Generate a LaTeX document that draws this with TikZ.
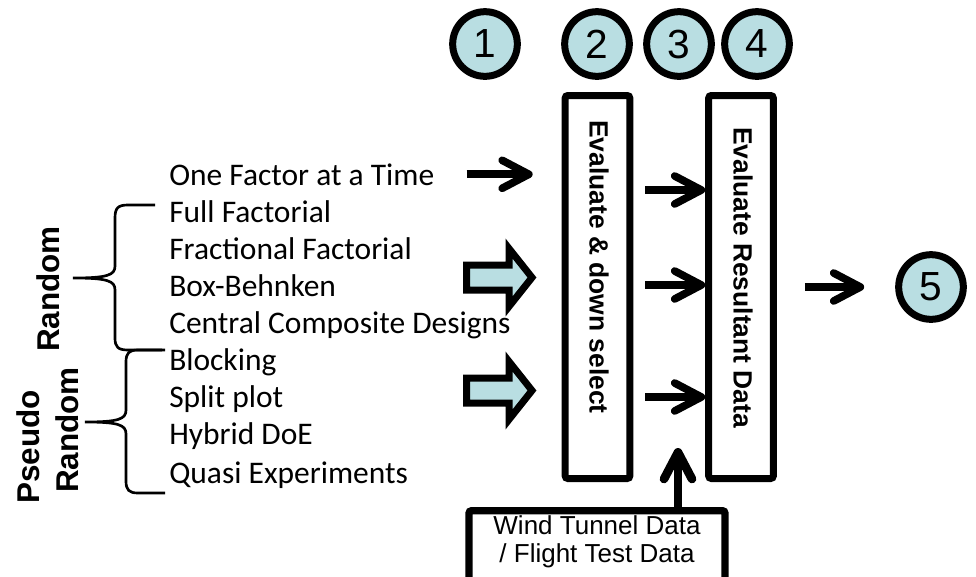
\documentclass[tikz,border=0pt]{standalone}
\usepackage{fontspec}
\setmainfont{Carlito}
\newfontfamily\arialfont{Liberation Sans}
\usetikzlibrary{arrows.meta,positioning}

\definecolor{stepblue}{RGB}{185,222,226}

\begin{document}
\begin{tikzpicture}[x=0.75pt, y=-0.75pt,
      every node/.append style={inner sep=0pt},
      stepnum/.style={circle, draw, line width=5.25pt, fill=stepblue,
        minimum size=48.5pt, font=\arialfont\fontsize{30.5}{32}\selectfont},
      stagebox/.style={draw, line width=5.25pt, rounded corners=2pt,
        minimum width=48.5pt, minimum height=287.25pt},
      stagetext/.style={rotate=-90, anchor=west,
        font=\arialfont\bfseries\fontsize{19.8}{22}\selectfont},
      design/.style={anchor=base west, font=\fontsize{23.6}{26}\selectfont},
      grouplabel/.style={rotate=90, font=\arialfont\bfseries\fontsize{23.6}{26}\selectfont},
      flowarrow/.style={line width=5.75pt, -{Straight Barb[length=20pt,width=21pt,round]}},
      fatarrow/.style={draw, line width=5.25pt, fill=stepblue, miter limit=4},
      grpbrace/.style={line width=2pt}]
    \clip (0,0) rectangle (976,576);

    % step numbers
    \node[stepnum] (s1) at (485,44) {1};
    \node[stepnum] (s2) at (597,44) {2};
    \node[stepnum] (s3) at (679,44) {3};
    \node[stepnum] (s4) at (757,44) {4};
    \node[stepnum] (s5) at (931,287) {5};

    % the two evaluation stages
    \node[stagebox] (eval) at (597.5,287) {};
    \node[stagebox] (result) at (741,287) {};
    \node[stagetext] at (599,120) {Evaluate \& down select};
    \node[stagetext] at (743,127) {Evaluate Resultant Data};

    % list of designs
    \foreach \name/\base/\txt in {one/185/One Factor at a Time,
        full/222/Full Factorial, frac/259/Fractional Factorial,
        box/296/Box-Behnken, ccd/333/Central Composite Designs,
        block/370/Blocking, split/407/Split plot, hybrid/444/Hybrid DoE,
        quasi/483/Quasi Experiments}
      \node[design] (\name) at (169,\base) {\txt};

    % group labels and braces
    \node[grouplabel] (random) at (48,289) {Random};
    \node[grouplabel] (pseudo) at (28,447) {Pseudo};
    \node[grouplabel] (pseudorandom) at (67,430) {Random};
    \draw[grpbrace] (155,205) -- (128,205) .. controls (118,205) and (115,208) .. (115,218)
      -- (115,266) .. controls (115,275) and (108,278) .. (73,278)
      .. controls (108,278) and (115,281) .. (115,290)
      -- (115,338) .. controls (115,347) and (118,350) .. (128,350) -- (162,350);
    \draw[grpbrace] (165,350) -- (138,350) .. controls (129,350) and (126,353) .. (126,362)
      -- (126,410) .. controls (126,419) and (119,422) .. (85,422)
      .. controls (119,422) and (126,425) .. (126,434)
      -- (126,481) .. controls (126,490) and (129,493) .. (138,493) -- (165,493);

    % inputs to the first stage
    \draw[flowarrow, shorten <=24pt, shorten >=21.75pt] (one.east) -- (eval.west |- one.east);
    \foreach \y in {277.5,390.5}
      \draw[fatarrow] (466.5,\y-12.5) -- (509,\y-12.5) -- (509,\y-29) -- (532,\y)
        -- (509,\y+29) -- (509,\y+12.5) -- (466.5,\y+12.5) -- cycle;

    % stage to stage
    \foreach \dy in {-97,-2,110}
      \draw[flowarrow] ([shift={(12,\dy)}]eval.east) -- ([shift={(0,\dy)}]result.west);
    \draw[flowarrow] ([shift={(28,0)}]result.east) -- ([shift={(-31,0)}]s5.west);

    % measured data feeding in from below
    \node[draw, line width=5.5pt, rounded corners=2pt, minimum width=192pt,
      minimum height=75pt, anchor=north] (wind) at (597,507) {};
    \node[anchor=north, align=center, font=\arialfont\fontsize{19.5}{21}\selectfont]
      (windtext) at (597,515) {Wind Tunnel Data\\/ Flight Test Data};
    \coordinate (datain) at (678,448);
    \draw[flowarrow, line width=6.5pt] (wind.north -| datain) -- (datain);
\end{tikzpicture}
\end{document}
